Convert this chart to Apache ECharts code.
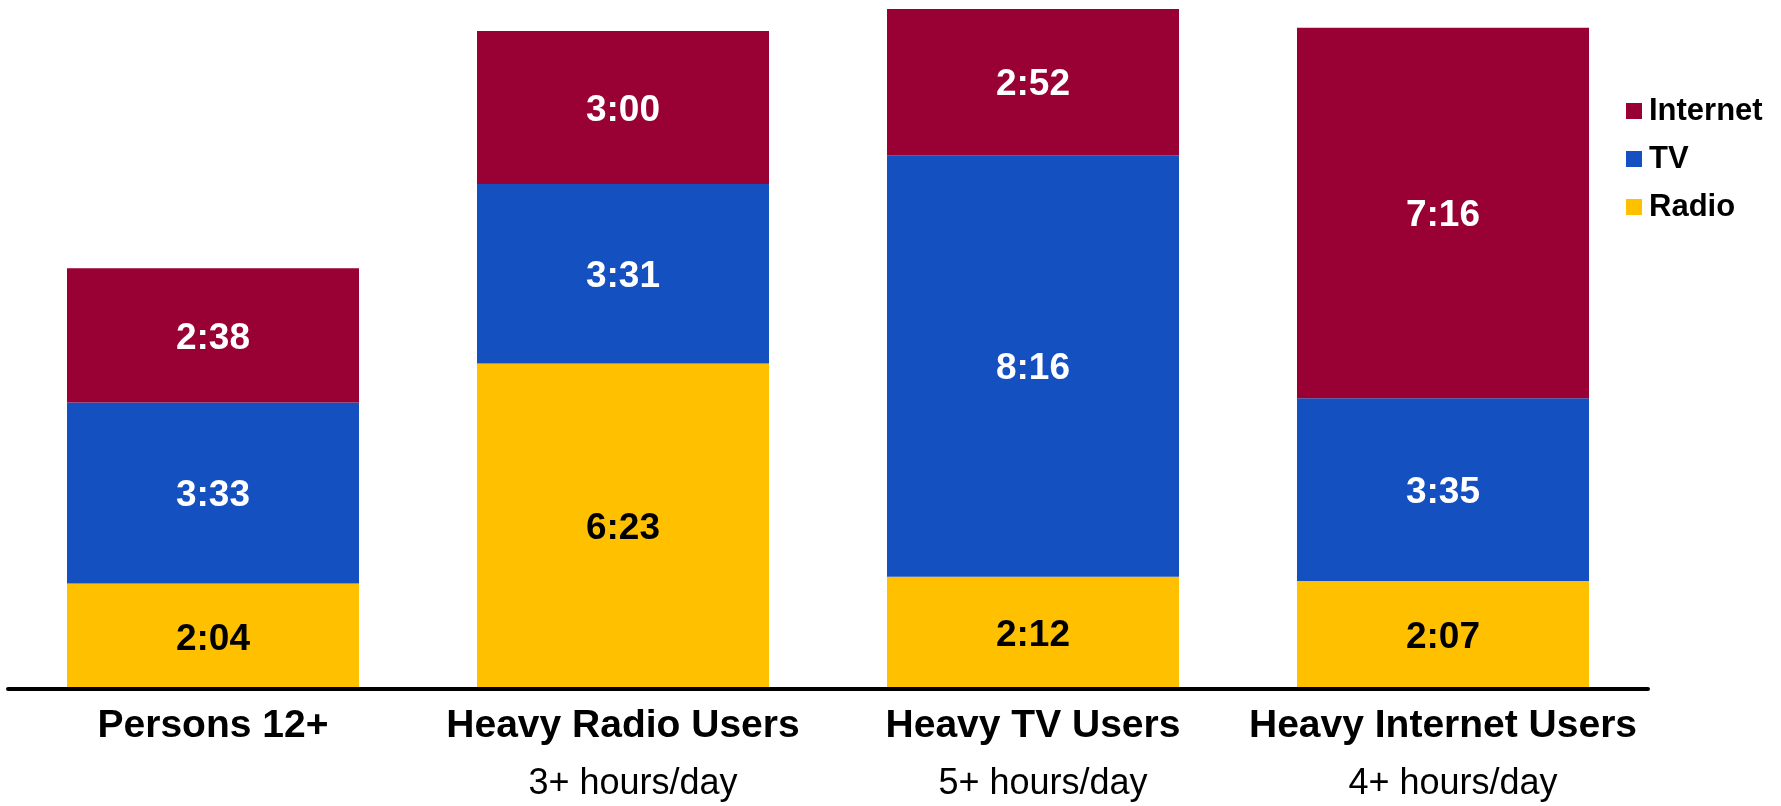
<!DOCTYPE html>
<html>
<head>
<meta charset="utf-8">
<style>
  html, body { margin: 0; padding: 0; background: #ffffff; }
  #chart { width: 1781px; height: 806px; }
</style>
<script src="https://cdn.jsdelivr.net/npm/echarts@6/dist/echarts.min.js"></script>
</head>
<body>
<div id="chart"></div>
<script>
// Audience groups along the x axis, with their qualifying usage level
const categories = ['Persons 12+', 'Heavy Radio Users', 'Heavy TV Users', 'Heavy Internet Users'];
const subtitles = ['', '3+ hours/day', '5+ hours/day', '4+ hours/day'];

// Average daily time spent per medium, as h:mm
const radioTime = ['2:04', '6:23', '2:12', '2:07'];
const tvTime = ['3:33', '3:31', '8:16', '3:35'];
const internetTime = ['2:38', '3:00', '2:52', '7:16'];

const toMinutes = s => { const [h, m] = s.split(':').map(Number); return h * 60 + m; };
const toClock = v => Math.floor(v / 60) + ':' + String(v % 60).padStart(2, '0');

const FONT = '"Liberation Sans", Arial, sans-serif';

function segment(name, times, color, labelColor) {
  return {
    name: name,
    type: 'bar',
    stack: 'time',
    barWidth: 292,
    data: times.map(toMinutes),
    itemStyle: { color: color },
    label: {
      show: true,
      position: 'inside',
      offset: [0, 3],
      color: labelColor,
      fontFamily: FONT,
      fontWeight: 'bold',
      fontSize: 37,
      formatter: p => toClock(p.value)
    }
  };
}

const chart = echarts.init(document.getElementById('chart'));
chart.setOption({
  animation: false,
  backgroundColor: '#ffffff',
  grid: { left: 8, right: 133, top: 9, bottom: 117, containLabel: false },
  legend: {
    orient: 'vertical',
    left: 1621,
    top: 90,
    itemWidth: 16,
    itemHeight: 16,
    itemGap: 16,
    icon: 'rect',
    data: ['Internet', 'TV', 'Radio'],
    textStyle: {
      fontFamily: FONT,
      fontWeight: 'bold',
      fontSize: 31,
      color: '#000',
      lineHeight: 32,
      padding: [0, 0, 0, 2]
    }
  },
  xAxis: {
    type: 'category',
    data: categories,
    z: 5,
    axisTick: { show: false },
    axisLine: { lineStyle: { color: '#000', width: 4 } },
    axisLabel: {
      margin: 9,
      interval: 0,
      formatter: (value, idx) => {
        const sub = subtitles[idx];
        return sub ? '{a|' + value + '}\n{b|' + sub + '}' : '{a|' + value + '}';
      },
      rich: {
        a: { fontFamily: FONT, fontWeight: 'bold', fontSize: 39, color: '#000', lineHeight: 56 },
        b: { fontFamily: FONT, fontSize: 36, color: '#000', lineHeight: 60, padding: [0, 0, 0, 20] }
      }
    }
  },
  yAxis: {
    type: 'value',
    min: 0,
    max: 800,
    show: false,
    splitLine: { show: false }
  },
  series: [
    segment('Radio', radioTime, '#FFC000', '#000000'),
    segment('TV', tvTime, '#1450C0', '#ffffff'),
    segment('Internet', internetTime, '#990033', '#ffffff')
  ]
});
</script>
</body>
</html>
